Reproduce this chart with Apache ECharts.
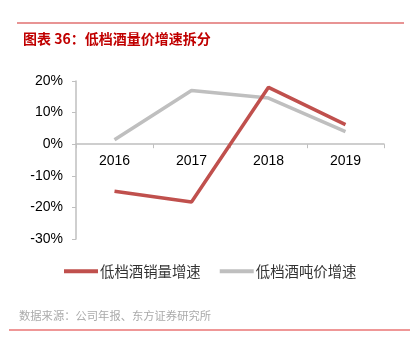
<!DOCTYPE html>
<html>
<head>
<meta charset="utf-8">
<script src="https://cdn.jsdelivr.net/npm/echarts@6/dist/echarts.min.js"></script>
<style>
  html, body { margin: 0; padding: 0; background: #fff; }
  #chart { width: 414px; height: 353px; }
</style>
</head>
<body>
<div id="chart"></div>
<script>
const years = ['2016', '2017', '2018', '2019']
const volumeGrowth = [-14.9, -18.3, 18.0, 6.2]
const priceGrowth = [1.4, 17.0, 14.6, 4.0]
const yTicks = { min: -30, max: 20, step: 10 }

const cnFont = '"Noto Sans CJK SC", sans-serif'
const numFont = '"Liberation Sans", Arial, sans-serif'

const grid = { left: 76, right: 30, top: 81, bottom: 114 }
// 把类目轴挪到 0% 位置（连同标签）
const plotHeight = 353 - grid.top - grid.bottom
const zeroOffset = -plotHeight * (0 - yTicks.min) / (yTicks.max - yTicks.min)

const chart = echarts.init(document.getElementById('chart'))

const option = {
  animation: false,
  backgroundColor: '#fff',
  title: {
    text: '图表 36：低档酒量价增速拆分',
    left: 18,
    top: 27,
    textStyle: { color: '#c00000', fontSize: 14, fontWeight: 'bold', fontFamily: cnFont }
  },
  grid: grid,
  legend: {
    left: 59,
    top: 259,
    itemWidth: 34,
    itemHeight: 4,
    itemGap: 19,
    icon: 'rect',
    textStyle: { color: '#333', fontSize: 14.4, fontFamily: cnFont, padding: [0, 0, 0, -3] },
    data: ['低档酒销量增速', '低档酒吨价增速']
  },
  xAxis: {
    type: 'category',
    data: years,
    offset: zeroOffset,
    axisLine: { onZero: false, lineStyle: { color: '#bfbfbf', width: 1.5 } },
    axisTick: { show: true, length: 4, lineStyle: { color: '#bfbfbf' } },
    axisLabel: { color: '#000', fontSize: 14, fontFamily: numFont, margin: 10 }
  },
  yAxis: {
    type: 'value',
    min: yTicks.min,
    max: yTicks.max,
    interval: yTicks.step,
    axisLine: { show: true, lineStyle: { color: '#bfbfbf', width: 1.5 } },
    axisTick: { show: true, length: 4, lineStyle: { color: '#bfbfbf' } },
    axisLabel: { color: '#000', fontSize: 14, fontFamily: numFont, margin: 13, formatter: '{value}%' },
    splitLine: { show: false }
  },
  series: [
    {
      name: '低档酒销量增速',
      type: 'line',
      data: volumeGrowth,
      showSymbol: false,
      symbol: 'none',
      lineStyle: { color: '#c0504d', width: 3.5 },
      itemStyle: { color: '#c0504d' },
      z: 3
    },
    {
      name: '低档酒吨价增速',
      type: 'line',
      data: priceGrowth,
      showSymbol: false,
      symbol: 'none',
      lineStyle: { color: '#bfbfbf', width: 3.5 },
      itemStyle: { color: '#bfbfbf' },
      z: 2
    }
  ],
  graphic: [
    {
      type: 'line',
      shape: { x1: 17, y1: 23, x2: 404, y2: 23 },
      style: { stroke: '#e07070', lineWidth: 1.5 }
    },
    {
      type: 'text',
      left: 19,
      top: 310,
      style: { text: '数据来源：公司年报、东方证券研究所', fill: '#aaa', fontSize: 11.3, fontFamily: cnFont }
    },
    {
      type: 'line',
      shape: { x1: 9, y1: 330, x2: 410, y2: 330 },
      style: { stroke: '#e03030', lineWidth: 1.2 }
    }
  ]
}

chart.setOption(option)
</script>
</body>
</html>
